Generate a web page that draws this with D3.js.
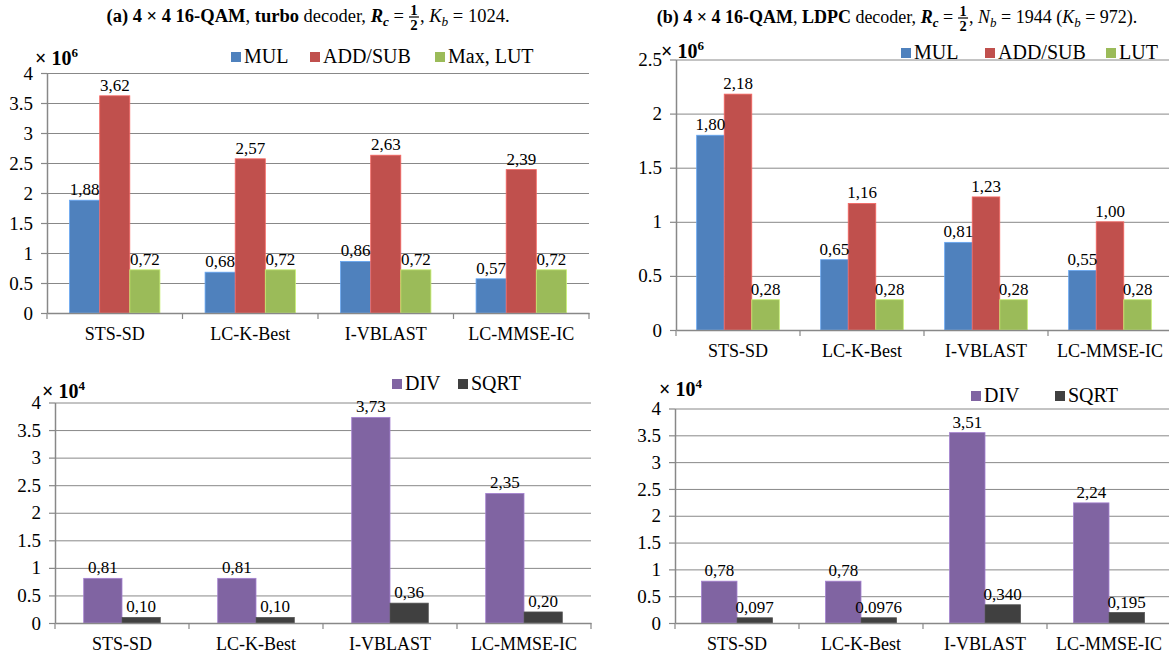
<!DOCTYPE html>
<html><head><meta charset="utf-8">
<script src="https://cdn.jsdelivr.net/npm/d3@7"></script>
<style>
html,body{margin:0;padding:0;background:#fff;}
svg{display:block;font-family:"Liberation Serif","Times New Roman",serif;}
svg text{font-family:"Liberation Serif","Times New Roman",serif !important;fill:#000;}
</style></head>
<body><svg id="chart" width="1169" height="657"></svg>
<script>
// ---------- DATA ----------
const categories = ["STS-SD", "LC-K-Best", "I-VBLAST", "LC-MMSE-IC"];

// (a) turbo decoder, top: x10^6
const aMUL = [1.88, 0.68, 0.86, 0.57];
const aADD = [3.62, 2.57, 2.63, 2.39];
const aMAX = [0.72, 0.72, 0.72, 0.72];
const aMULLabels = ["1,88", "0,68", "0,86", "0,57"];
const aADDLabels = ["3,62", "2,57", "2,63", "2,39"];
const aMAXLabels = ["0,72", "0,72", "0,72", "0,72"];
const aTopTicks = [0, 0.5, 1, 1.5, 2, 2.5, 3, 3.5, 4];

// (a) bottom: x10^4
const aDIV = [0.81, 0.81, 3.73, 2.35];
const aSQRT = [0.10, 0.10, 0.36, 0.20];
const aDIVLabels = ["0,81", "0,81", "3,73", "2,35"];
const aSQRTLabels = ["0,10", "0,10", "0,36", "0,20"];
const aBotTicks = [0, 0.5, 1, 1.5, 2, 2.5, 3, 3.5, 4];

// (b) LDPC decoder, top: x10^6
const bMUL = [1.80, 0.65, 0.81, 0.55];
const bADD = [2.18, 1.17, 1.23, 1.00];
const bLUT = [0.28, 0.28, 0.28, 0.28];
const bMULLabels = ["1,80", "0,65", "0,81", "0,55"];
const bADDLabels = ["2,18", "1,16", "1,23", "1,00"];
const bLUTLabels = ["0,28", "0,28", "0,28", "0,28"];
const bTopTicks = [0, 0.5, 1, 1.5, 2, 2.5];

// (b) bottom: x10^4
const bDIV = [0.78, 0.78, 3.55, 2.24];
const bSQRT = [0.097, 0.0976, 0.340, 0.195];
const bDIVLabels = ["0,78", "0,78", "3,51", "2,24"];
const bSQRTLabels = ["0,097", "0.0976", "0,340", "0,195"];
const bBotTicks = [0, 0.5, 1, 1.5, 2, 2.5, 3, 3.5, 4];

// ---------- STYLE ----------
const C = {blue:"#4F81BD", red:"#C0504D", green:"#9BBB59", purple:"#8064A2", dark:"#404040", grid:"#888888"};

const svg = d3.select("#chart");

function drawPanel(cfg) {
  const g = svg.append("g");
  const x0 = d3.scaleBand().domain(categories).range([cfg.left, cfg.right]).padding(0);
  const bw = x0.bandwidth();
  const n = cfg.series.length;
  const gw = bw * n / (n + 1.5);
  const x1 = d3.scaleBand().domain(cfg.series.map(s => s.name)).range([(bw - gw) / 2, (bw + gw) / 2]).padding(0);
  const y = d3.scaleLinear().domain([0, cfg.max]).range([cfg.y0, cfg.yTop]);
  const W = cfg.right - cfg.left;

  // gridlines
  g.append("g").attr("transform", `translate(${cfg.left},0)`)
    .call(d3.axisLeft(y).tickValues(cfg.ticks.filter(t => t > 0)).tickSize(-W).tickFormat(""))
    .call(a => a.select(".domain").remove())
    .call(a => a.selectAll("line").attr("stroke", C.grid).attr("stroke-width", 1));

  // bars
  cfg.series.forEach(s => {
    g.append("g").selectAll("rect")
      .data(categories.map((c, i) => ({c, v: s.values[i]})))
      .join("rect")
      .attr("x", d => x0(d.c) + x1(s.name))
      .attr("width", x1.bandwidth())
      .attr("y", d => y(d.v))
      .attr("height", d => y(0) - y(d.v))
      .attr("fill", s.color)
      .attr("stroke", d3.color(s.color).brighter(0.7))
      .attr("stroke-width", 0.8);
  });

  // y axis
  g.append("g").attr("transform", `translate(${cfg.left},0)`)
    .call(d3.axisLeft(y).tickValues(cfg.ticks).tickSize(6).tickSizeOuter(0).tickPadding(8).tickFormat(d => String(d)))
    .attr("font-family", null)
    .call(a => a.select(".domain").attr("stroke", C.grid).attr("stroke-width", 1.5))
    .call(a => a.selectAll(".tick line").attr("stroke", C.grid).attr("stroke-width", 1.2))
    .call(a => a.selectAll("text").attr("font-size", 19).attr("fill", "#000"));

  // x axis
  const xa = g.append("g").attr("transform", `translate(0,${cfg.y0})`)
    .call(d3.axisBottom(x0).tickSize(0).tickPadding(14))
    .attr("font-family", null)
    .call(a => a.select(".domain").attr("stroke", C.grid).attr("stroke-width", 1.5))
    .call(a => a.selectAll("text").attr("font-size", 18).attr("fill", "#000"));
  const bounds = categories.map(c => x0(c)).concat([x0(categories[categories.length - 1]) + bw]);
  xa.selectAll("line.bt").data(bounds).join("line").attr("class", "bt")
    .attr("x1", d => d).attr("x2", d => d).attr("y1", 0).attr("y2", 6)
    .attr("stroke", C.grid).attr("stroke-width", 1.2);

  // data labels
  cfg.series.forEach(s => {
    g.append("g").selectAll("text")
      .data(categories.map((c, i) => ({c, v: s.values[i], l: s.labels[i]})))
      .join("text")
      .attr("x", d => x0(d.c) + x1(s.name) + x1.bandwidth() / 2)
      .attr("y", d => y(d.v) - 5)
      .attr("text-anchor", "middle")
      .attr("font-size", 17)
      .text(d => d.l);
  });

  // exponent label
  const ex = g.append("text").attr("x", cfg.expX).attr("y", cfg.expY)
    .attr("font-size", 20).attr("font-weight", "bold");
  ex.append("tspan").text("× 10");
  ex.append("tspan").attr("dy", -8).attr("font-size", 13).text(cfg.exp);

  // legend
  cfg.series.forEach((s, i) => {
    const lx = cfg.legendX[i];
    g.append("rect").attr("x", lx).attr("y", cfg.legendY - 11).attr("width", 10).attr("height", 10).attr("fill", s.color);
    g.append("text").attr("x", lx + 13).attr("y", cfg.legendY).attr("font-size", 20).text(s.name);
  });
}

drawPanel({
  left: 47, right: 589, y0: 313, yTop: 73, max: 4, ticks: aTopTicks,
  series: [
    {name: "MUL", values: aMUL, labels: aMULLabels, color: C.blue},
    {name: "ADD/SUB", values: aADD, labels: aADDLabels, color: C.red},
    {name: "Max, LUT", values: aMAX, labels: aMAXLabels, color: C.green}
  ],
  legendX: [231, 310, 435], legendY: 63, expX: 35, expY: 65, exp: "6"
});
drawPanel({
  left: 676, right: 1172, y0: 330, yTop: 59.5, max: 2.5, ticks: bTopTicks,
  series: [
    {name: "MUL", values: bMUL, labels: bMULLabels, color: C.blue},
    {name: "ADD/SUB", values: bADD, labels: bADDLabels, color: C.red},
    {name: "LUT", values: bLUT, labels: bLUTLabels, color: C.green}
  ],
  legendX: [901, 985, 1106], legendY: 59, expX: 661, expY: 58, exp: "6"
});
drawPanel({
  left: 55, right: 591, y0: 623, yTop: 402.5, max: 4, ticks: aBotTicks,
  series: [
    {name: "DIV", values: aDIV, labels: aDIVLabels, color: C.purple},
    {name: "SQRT", values: aSQRT, labels: aSQRTLabels, color: C.dark}
  ],
  legendX: [392, 458], legendY: 390, expX: 42, expY: 398, exp: "4"
});
drawPanel({
  left: 675, right: 1171, y0: 623, yTop: 408.5, max: 4, ticks: bBotTicks,
  series: [
    {name: "DIV", values: bDIV, labels: bDIVLabels, color: C.purple},
    {name: "SQRT", values: bSQRT, labels: bSQRTLabels, color: C.dark}
  ],
  legendX: [971, 1055], legendY: 402, expX: 659, expY: 396, exp: "4"
});

// ---------- TITLES ----------
function runs(parent, x, y, parts, size) {
  const t = parent.append("text").attr("x", x).attr("y", y).attr("font-size", size);
  parts.forEach(p => {
    const ts = t.append("tspan").text(p.t);
    if (p.b) ts.attr("font-weight", "bold");
    if (p.i) ts.attr("font-style", "italic");
    if (p.sub) ts.attr("dy", 4).attr("font-size", size * 0.72);
    if (p.after) ts.attr("dy", -4);
  });
  return t.node().getComputedTextLength();
}
function title(cx, y, seg1, seg2, size) {
  const g = svg.append("g");
  const w1 = runs(g, 0, y, seg1, size);
  const fx = w1 + 5;
  const fw = 10;
  g.append("text").attr("x", fx + fw / 2).attr("y", y - 7).attr("text-anchor", "middle")
    .attr("font-size", size * 0.8).attr("font-weight", "bold").text("1");
  g.append("line").attr("x1", fx).attr("x2", fx + fw).attr("y1", y - 5).attr("y2", y - 5)
    .attr("stroke", "#000").attr("stroke-width", 1.2);
  g.append("text").attr("x", fx + fw / 2).attr("y", y + 8).attr("text-anchor", "middle")
    .attr("font-size", size * 0.8).attr("font-weight", "bold").text("2");
  const w2 = runs(g, fx + fw + 1, y, seg2, size);
  const total = fx + fw + 1 + w2;
  g.attr("transform", `translate(${cx - total / 2},0)`);
}
title(308, 22, [
  {t: "(a) 4 × 4 16-QAM", b: 1}, {t: ", "}, {t: "turbo", b: 1}, {t: " decoder, "},
  {t: "R", b: 1, i: 1}, {t: "c", b: 1, i: 1, sub: 1}, {t: " =", after: 1}
], [
  {t: ", "}, {t: "K", i: 1}, {t: "b", i: 1, sub: 1}, {t: " = 1024.", after: 1}
], 18.5);
title(897, 23, [
  {t: "(b) 4 × 4 16-QAM", b: 1}, {t: ", "}, {t: "LDPC", b: 1}, {t: " decoder, "},
  {t: "R", b: 1, i: 1}, {t: "c", b: 1, i: 1, sub: 1}, {t: " =", after: 1}
], [
  {t: ", "}, {t: "N", i: 1}, {t: "b", i: 1, sub: 1}, {t: " = 1944 (", after: 1},
  {t: "K", i: 1}, {t: "b", i: 1, sub: 1}, {t: " = 972).", after: 1}
], 18);
</script>
</body></html>
